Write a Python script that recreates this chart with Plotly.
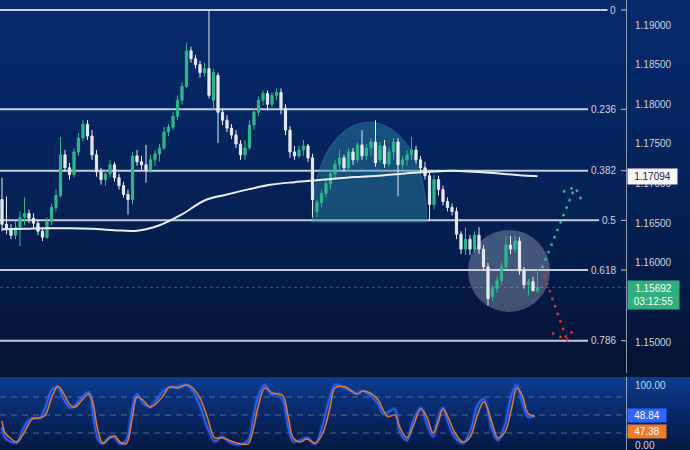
import plotly.graph_objects as go

# ---------------- data ----------------
opens = [1.16800,1.16488,1.16425,1.16350,1.16450,1.16575,1.16625,1.16563,1.16500,1.16400,
         1.16325,1.16525,1.16700,1.16850,1.17363,1.17200,1.17113,1.17400,1.17575,1.17750,
         1.17600,1.17363,1.17150,1.17050,1.17125,1.17238,1.17075,1.16975,1.16863,1.16800,
         1.17350,1.17275,1.17238,1.17175,1.17300,1.17375,1.17450,1.17650,1.17713,1.17850,
         1.18050,1.18225,1.18675,1.18575,1.18500,1.18400,1.18450,1.18050,1.18363,1.17900,
         1.17800,1.17700,1.17613,1.17500,1.17363,1.17450,1.17738,1.17900,1.18050,1.18138,
         1.18000,1.18113,1.18150,1.17950,1.17675,1.17400,1.17350,1.17425,1.17475,1.17325,
         1.16650,1.16763,1.16875,1.17000,1.17125,1.17238,1.17325,1.17200,1.17400,1.17300,
         1.17488,1.17350,1.17450,1.17525,1.17300,1.17475,1.17250,1.17400,1.17525,1.17238,
         1.17300,1.17363,1.17425,1.17300,1.17200,1.17100,1.16738,1.17050,1.16925,1.16775,
         1.16700,1.16650,1.16363,1.16175,1.16300,1.16175,1.16350,1.16175,1.15950,1.15575,
         1.15675,1.15775,1.15950,1.16225,1.16175,1.16275,1.15900,1.15725,1.15763,1.15650]
highs = [1.17075,1.16838,1.16488,1.16525,1.16650,1.16825,1.16675,1.16625,1.16550,1.16450,
         1.16575,1.16750,1.16925,1.17588,1.17425,1.17263,1.17450,1.17638,1.17800,1.17800,
         1.17675,1.17425,1.17200,1.17175,1.17300,1.17275,1.17125,1.17025,1.16925,1.17400,
         1.17425,1.17350,1.17488,1.17363,1.17425,1.17500,1.17713,1.17750,1.17900,1.18113,
         1.18275,1.18775,1.18725,1.18625,1.18550,1.18525,1.19189,1.18450,1.18400,1.17950,
         1.17863,1.17750,1.17675,1.17550,1.17550,1.17800,1.17950,1.18100,1.18175,1.18175,
         1.18150,1.18200,1.18200,1.18000,1.17725,1.17475,1.17475,1.17550,1.17500,1.17375,
         1.16800,1.16925,1.17050,1.17175,1.17300,1.17425,1.17363,1.17450,1.17450,1.17525,
         1.17675,1.17500,1.17575,1.17800,1.17525,1.17550,1.17450,1.17575,1.17575,1.17350,
         1.17425,1.17588,1.17475,1.17350,1.17275,1.17150,1.17113,1.17100,1.16975,1.16825,
         1.16750,1.16700,1.16400,1.16450,1.16350,1.16400,1.16450,1.16225,1.16000,1.15725,
         1.15825,1.16000,1.16338,1.16338,1.16338,1.16325,1.15950,1.15800,1.15825,1.15925]
lows = [1.16400,1.16363,1.16300,1.16300,1.16213,1.16475,1.16500,1.16425,1.16350,1.16275,
        1.16300,1.16475,1.16650,1.16825,1.17150,1.17050,1.17075,1.17350,1.17538,1.17550,
        1.17300,1.17088,1.16988,1.16975,1.17075,1.17025,1.16925,1.16825,1.16613,1.16738,
        1.17225,1.17175,1.17013,1.17138,1.17225,1.17275,1.17425,1.17600,1.17675,1.17800,
        1.18000,1.18200,1.18525,1.18450,1.18338,1.18350,1.18075,1.17925,1.17513,1.17738,
        1.17650,1.17563,1.17450,1.17300,1.17300,1.17425,1.17675,1.17850,1.17988,1.17925,
        1.17963,1.18050,1.17875,1.17613,1.17325,1.17300,1.17325,1.17350,1.17275,1.16575,
        1.16575,1.16700,1.16825,1.16925,1.17075,1.17175,1.17150,1.17150,1.17238,1.17263,
        1.17300,1.17300,1.17350,1.17213,1.17263,1.17200,1.17213,1.17300,1.16838,1.17175,
        1.17225,1.17300,1.17250,1.17150,1.17050,1.16525,1.16675,1.16850,1.16725,1.16650,
        1.16600,1.16300,1.16113,1.16100,1.16100,1.16138,1.16113,1.15900,1.15463,1.15525,
        1.15625,1.15725,1.15925,1.16113,1.16125,1.15850,1.15675,1.15588,1.15650,1.15625]
closes = [1.16488,1.16425,1.16350,1.16450,1.16575,1.16625,1.16563,1.16500,1.16400,1.16325,
          1.16525,1.16700,1.16850,1.17363,1.17200,1.17113,1.17400,1.17575,1.17750,1.17600,
          1.17363,1.17150,1.17050,1.17125,1.17238,1.17075,1.16975,1.16863,1.16800,1.17350,
          1.17275,1.17238,1.17175,1.17300,1.17375,1.17450,1.17650,1.17713,1.17850,1.18050,
          1.18225,1.18675,1.18575,1.18500,1.18400,1.18450,1.18113,1.18400,1.17900,1.17800,
          1.17700,1.17613,1.17500,1.17363,1.17450,1.17738,1.17900,1.18050,1.18138,1.18000,
          1.18113,1.18150,1.17950,1.17675,1.17400,1.17350,1.17425,1.17475,1.17325,1.16800,
          1.16763,1.16875,1.17000,1.17125,1.17238,1.17325,1.17200,1.17400,1.17300,1.17488,
          1.17350,1.17450,1.17525,1.17263,1.17475,1.17250,1.17400,1.17525,1.17238,1.17300,
          1.17363,1.17425,1.17300,1.17200,1.17100,1.16738,1.17050,1.16925,1.16775,1.16700,
          1.16650,1.16363,1.16175,1.16300,1.16175,1.16350,1.16175,1.15950,1.15550,1.15675,
          1.15775,1.15950,1.16225,1.16175,1.16275,1.15900,1.15725,1.15763,1.15650,1.15692]

ma_idx = [0, 5, 10, 15, 20, 25, 30, 35, 40, 45, 50, 55, 60, 65, 70, 75, 80, 85, 90, 95,
          100, 105, 110, 115, 119]
ma_vals = [1.16425, 1.16431, 1.16438, 1.16438, 1.16431, 1.16413, 1.16406, 1.16475, 1.16613,
           1.16788, 1.16863, 1.16931, 1.16988, 1.17019, 1.17044, 1.17069, 1.17088, 1.17106,
           1.17131, 1.17150, 1.17163, 1.17150, 1.17131, 1.17106, 1.17094]

fib_high = 1.19189
fib_low = 1.13885
fib_ratios = [0, 0.236, 0.382, 0.5, 0.618, 0.786]
fib_labels = ["0", "0.236", "0.382", "0.5", "0.618", "0.786"]

price_ticks = [1.19, 1.185, 1.18, 1.175, 1.17, 1.165, 1.16, 1.15]
price_ticktext = ["1.19000", "1.18500", "1.18000", "1.17500", "1.17000",
                  "1.16500", "1.16000", "1.15000"]
last_price = 1.15692
last_price_text = "1.15692"
countdown = "03:12:55"
ma_last = 1.17094
ma_last_text = "1.17094"

stoch_x = [0, 0.7, 1.8, 3.3, 4.4, 5.6, 6.7, 8.4, 9.6, 11.1, 12.4, 13.6, 15.1, 16.2, 17.8,
           19.3, 20.2, 21.3, 22.4, 24, 25.1, 26.2, 27.6, 28.9, 30, 31.3, 32.9, 34.4, 35.8,
           37.3, 38.9, 41.1, 42.4, 44, 45.6, 47.3, 48.9, 50.7, 52.9, 54.7, 55.8, 56.9, 58.4,
           60, 61.1, 62.4, 63.6, 64.7, 66.2, 67.8, 69.6, 71.3, 72.9, 74, 76.2, 78.9, 80.2,
           82.2, 83.6, 84.7, 85.8, 87.3, 88.4, 90, 91.3, 93.1, 94.4, 95.8, 96.9, 98, 99.1,
           100.7, 102.4, 104, 105.8, 107.1, 108.9, 110.2, 111.8, 113.3, 114.4, 115.6, 116.9,
           118.4]
stoch_d = [40, 20, 12, 5, 14, 30, 43, 45, 50, 80, 98, 87, 67, 63, 75, 85, 70, 25, 3, 12,
           15, 5, 2, 42, 80, 75, 63, 70, 82, 97, 95, 100, 95, 78, 47, 12, 12, 7, 2, 2, 25,
           63, 95, 87, 85, 83, 47, 12, 5, 10, 3, 20, 62, 95, 97, 85, 90, 85, 75, 58, 47, 50,
           30, 12, 30, 60, 47, 20, 37, 60, 47, 20, 5, 13, 53, 72, 37, 12, 22, 63, 95, 83, 53,
           47.38]
stoch_k = [30, 12, 6, 4, 22, 38, 45, 45, 62, 92, 97, 78, 62, 66, 80, 88, 55, 10, 2, 14,
           12, 2, 8, 60, 85, 70, 64, 76, 90, 96, 97, 100, 90, 65, 30, 6, 14, 4, 1, 8, 45,
           80, 100, 84, 86, 75, 30, 6, 8, 12, 2, 35, 80, 100, 95, 86, 90, 80, 68, 52, 55, 60,
           22, 8, 40, 62, 35, 14, 45, 62, 38, 12, 3, 22, 68, 76, 25, 8, 35, 85, 100, 72, 47,
           48.84]
stoch_levels = [80, 50, 20]
stoch_ticks = [0, 100]
stoch_ticktext = ["0.00", "100.00"]
k_last_text = "48.84"
d_last_text = "47.38"

# pattern drawings (candle index, price)
dome_x = [68.9, 94.4]
dome_base = 1.16516
dome_ctrl = 1.18193
circle_x = [103.56, 121.78]
circle_y = [1.15382, 1.16416]
up_arrow_x = [120.0, 127.33, None, 124.67, 127.33, 129.11]
up_arrow_y = [1.15936, 1.16958, None, 1.16895, 1.16958, 1.16756]
down_arrow_x = [120.44, 125.56, None, 122.22, 125.56, 127.33]
down_arrow_y = [1.15848, 1.15029, None, 1.15117, 1.15029, 1.15193]

# ---------------- layout geometry ----------------
W, H = 690, 450
PLOT_W = 626
MAIN_BOTTOM_PX = 373
STOCH_TOP_PX = 377
main_dom = [(H - MAIN_BOTTOM_PX) / H, 1.0]
stoch_dom = [0.0, (H - STOCH_TOP_PX) / H]
px_per_unit = 7932.0
y_top = 1.19 + 25 / px_per_unit
y_bot = 1.19 - (MAIN_BOTTOM_PX - 25) / px_per_unit
x_range = [(0 - 2) / 4.5, (PLOT_W - 2) / 4.5]
s_top = (445 - STOCH_TOP_PX) / 0.6
s_bot = (445 - H) / 0.6

GREEN = "#2fb88a"
WHITE = "#e6ebf2"
FIB_COL = "rgba(214,219,228,0.92)"
LABEL_COL = "#cfd5df"

fig = go.Figure()

def lerp(c1, c2, t):
    return tuple(int(round(a + (b - a) * t)) for a, b in zip(c1, c2))

def grad(stops, y):
    for (y1, c1), (y2, c2) in zip(stops, stops[1:]):
        if y1 <= y <= y2:
            return lerp(c1, c2, (y - y1) / (y2 - y1))
    return stops[-1][1]

shapes = []
main_stops = [(0, (7, 42, 108)), (130, (6, 37, 96)), (260, (5, 29, 76)), (373, (3, 19, 50))]
stoch_stops = [(377, (12, 62, 146)), (392, (10, 52, 126)), (420, (7, 38, 96)), (450, (4, 25, 66))]
step = 4
for y in range(0, MAIN_BOTTOM_PX, step):
    c = grad(main_stops, y + step / 2)
    y2 = min(y + step, MAIN_BOTTOM_PX)
    shapes.append(dict(type="rect", xref="paper", yref="paper", x0=-0.01, x1=1.11,
                       y0=(H - y2) / H, y1=(H - y) / H, fillcolor="rgb(%d,%d,%d)" % c,
                       line=dict(width=0), layer="below"))
for y in range(STOCH_TOP_PX, H, step):
    c = grad(stoch_stops, y + step / 2)
    y2 = min(y + step, H)
    shapes.append(dict(type="rect", xref="paper", yref="paper", x0=-0.01, x1=1.11,
                       y0=(H - y2) / H, y1=(H - y) / H, fillcolor="rgb(%d,%d,%d)" % c,
                       line=dict(width=0), layer="below"))

# dome (cup) pattern
shapes.append(dict(type="path", xref="x", yref="y",
                   path="M %f,%f C %f,%f %f,%f %f,%f Z" % (dome_x[0], dome_base, dome_x[0], dome_ctrl,
                                                          dome_x[1], dome_ctrl, dome_x[1], dome_base),
                   fillcolor="rgba(45,140,170,0.42)", line=dict(color="rgba(90,175,200,0.3)", width=1),
                   layer="below"))
# circle
shapes.append(dict(type="circle", xref="x", yref="y", x0=circle_x[0], x1=circle_x[1],
                   y0=circle_y[0], y1=circle_y[1], fillcolor="rgba(195,205,222,0.32)",
                   line=dict(width=0), layer="below"))

# current price dotted line
shapes.append(dict(type="line", xref="paper", yref="y", x0=0, x1=1, y0=last_price, y1=last_price,
                   line=dict(color="rgba(40,170,140,0.55)", width=1, dash="dot"), layer="below"))

annotations = []
label_right_px = 617
for r, lab in zip(fib_ratios, fib_labels):
    p = fib_high - r * (fib_high - fib_low)
    w = sum(2.78 if ch == "." else 5.56 for ch in lab)
    end_px = label_right_px - w - 4
    shapes.append(dict(type="line", xref="paper", yref="y", x0=0, x1=end_px / PLOT_W, y0=p, y1=p,
                       line=dict(color=FIB_COL, width=2), layer="below"))
    shapes.append(dict(type="line", xref="paper", yref="y", x0=621 / PLOT_W, x1=1, y0=p, y1=p,
                       line=dict(color=FIB_COL, width=1)))
    annotations.append(dict(x=(label_right_px + 1) / PLOT_W, y=p, xref="paper", yref="y", text=lab,
                            showarrow=False, xanchor="right", yanchor="middle",
                            font=dict(size=10, color=LABEL_COL, family="Liberation Sans, Arial")))

for lv in stoch_levels:
    shapes.append(dict(type="line", xref="paper", yref="y2", x0=0, x1=1, y0=lv, y1=lv,
                       line=dict(color="rgba(150,162,185,0.55)", width=1, dash="6px,5px"), layer="below"))

fig.add_trace(go.Candlestick(
    x=list(range(len(closes))), open=opens, high=highs, low=lows, close=closes,
    increasing=dict(line=dict(color=GREEN, width=1), fillcolor=GREEN),
    decreasing=dict(line=dict(color=WHITE, width=1), fillcolor=WHITE),
    xaxis="x", yaxis="y", showlegend=False, hoverinfo="skip"))

fig.add_trace(go.Scatter(x=ma_idx, y=ma_vals, mode="lines", line=dict(color="#e9edf4", width=2, shape="spline"),
                         xaxis="x", yaxis="y", showlegend=False, hoverinfo="skip"))

fig.add_trace(go.Scatter(x=up_arrow_x, y=up_arrow_y, mode="lines", connectgaps=False,
                         line=dict(color="#2fc08e", width=2.5, dash="2.5px,5.5px"),
                         xaxis="x", yaxis="y", showlegend=False, hoverinfo="skip"))
fig.add_trace(go.Scatter(x=down_arrow_x, y=down_arrow_y, mode="lines", connectgaps=False,
                         line=dict(color="#e2303c", width=2.5, dash="2.5px,5.5px"),
                         xaxis="x", yaxis="y", showlegend=False, hoverinfo="skip"))

fig.add_trace(go.Scatter(x=stoch_x, y=stoch_k, mode="lines", line=dict(color="rgba(45,100,255,0.3)", width=4.5, shape="spline"),
                         xaxis="x2", yaxis="y2", showlegend=False, hoverinfo="skip"))
fig.add_trace(go.Scatter(x=stoch_x, y=stoch_k, mode="lines", line=dict(color="#2f66ff", width=1.5, shape="spline"),
                         xaxis="x2", yaxis="y2", showlegend=False, hoverinfo="skip"))
fig.add_trace(go.Scatter(x=stoch_x, y=stoch_d, mode="lines", line=dict(color="#e07a35", width=1.5, shape="spline"),
                         xaxis="x2", yaxis="y2", showlegend=False, hoverinfo="skip"))

annotations.append(dict(x=1.0016, y=ma_last, xref="paper", yref="y", text=ma_last_text, showarrow=False,
                        xanchor="left", yanchor="middle", bgcolor="#f4f6f9", borderpad=2, width=45, height=11,
                        font=dict(size=10, color="#1b2233", family="Liberation Sans, Arial")))
annotations.append(dict(x=1.0016, y=last_price, xref="paper", yref="y",
                        text=last_price_text + "<br>" + countdown, showarrow=False,
                        xanchor="left", yanchor="top", yshift=7, bgcolor="#2fae80", borderpad=2,
                        width=47, height=24,
                        font=dict(size=10, color="#ffffff", family="Liberation Sans, Arial")))
annotations.append(dict(x=1.0016, y=stoch_k[-1], xref="paper", yref="y2", text=k_last_text, showarrow=False,
                        xanchor="left", yanchor="middle", bgcolor="#2f66ff", borderpad=1, width=36, height=11,
                        font=dict(size=10, color="#ffffff", family="Liberation Sans, Arial")))
annotations.append(dict(x=1.0016, y=stoch_d[-1], xref="paper", yref="y2", text=d_last_text, showarrow=False,
                        xanchor="left", yanchor="middle", yshift=-15, bgcolor="#f07a28", borderpad=1, width=36,
                        height=11, font=dict(size=10, color="#ffffff", family="Liberation Sans, Arial")))

axis_font = dict(size=10, color=LABEL_COL, family="Liberation Sans, Arial")
fig.update_layout(
    width=W, height=H, margin=dict(l=0, r=W - PLOT_W, t=0, b=0),
    paper_bgcolor="#031430", plot_bgcolor="rgba(0,0,0,0)",
    showlegend=False, shapes=shapes, annotations=annotations,
    xaxis=dict(domain=[0, 1], range=x_range, visible=False, rangeslider=dict(visible=False),
               anchor="y", fixedrange=True),
    xaxis2=dict(domain=[0, 1], range=x_range, visible=False, matches="x", anchor="y2"),
    yaxis=dict(domain=main_dom, range=[y_bot, y_top], side="right", anchor="x",
               tickvals=price_ticks, ticktext=price_ticktext, tickfont=axis_font,
               showgrid=False, zeroline=False, showline=True, linecolor="rgba(200,206,218,0.7)",
               linewidth=1, ticks="", ticklabelstandoff=6),
    yaxis2=dict(domain=stoch_dom, range=[s_bot, s_top], side="right", anchor="x2",
                tickvals=stoch_ticks, ticktext=stoch_ticktext, tickfont=axis_font,
                showgrid=False, zeroline=False, showline=True, linecolor="rgba(200,206,218,0.7)",
                linewidth=1, ticks="", ticklabelstandoff=6, ticklabeloverflow="allow"),
)

fig.write_html("out.html", config={"displayModeBar": False},
               post_script="document.body.style.margin='0';document.body.style.padding='0';"
                           "document.body.style.overflow='hidden';")
